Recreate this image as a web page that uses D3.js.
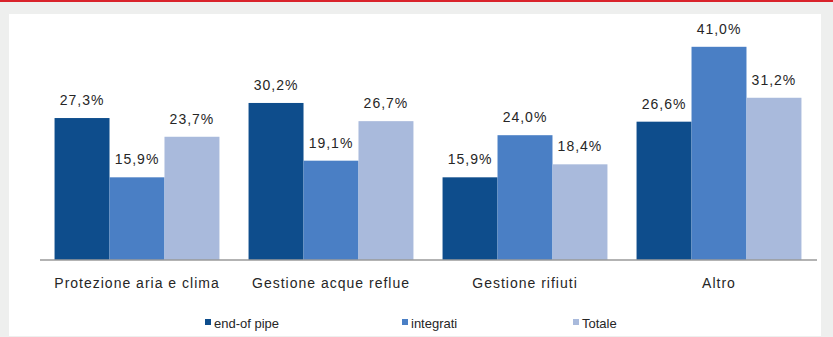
<!DOCTYPE html>
<html>
<head>
<meta charset="utf-8">
<script src="https://cdn.jsdelivr.net/npm/d3@7/dist/d3.min.js"></script>
<style>
  html, body { margin: 0; padding: 0; background: #eeefee; }
  svg { display: block; }
  text { font-family: "Liberation Sans", Arial, sans-serif; fill: #262626; }
</style>
</head>
<body>
<svg id="chart" width="833" height="337"></svg>
<script>
// Categories and series (percent values)
const categories = ["Protezione aria e clima", "Gestione acque reflue", "Gestione  rifiuti", "Altro"];
const seriesNames = ["end-of pipe", "integrati", "Totale"];
const endOfPipe = [27.3, 30.2, 15.9, 26.6];
const integrati = [15.9, 19.1, 24.0, 41.0];
const totale = [23.7, 26.7, 18.4, 31.2];
const seriesColors = ["#0e4d8c", "#4a7fc5", "#a9badc"];

const seriesValues = [endOfPipe, integrati, totale];
const rows = categories.map((c, i) => ({
  category: c,
  values: seriesNames.map((s, j) => ({ series: s, value: seriesValues[j][i], color: seriesColors[j] }))
}));

const svg = d3.select("#chart");
const W = 833, H = 337;

// Frame: red top rule and white panel
svg.append("rect").attr("x", 0).attr("y", 0).attr("width", W).attr("height", H).attr("fill", "#eeefee");
svg.append("rect").attr("x", 0).attr("y", 0).attr("width", W).attr("height", 2).attr("fill", "#d9232b");
svg.append("rect").attr("x", 9).attr("y", 14).attr("width", 812).attr("height", 322).attr("fill", "#ffffff");

const baseY = 260;
const x0 = d3.scaleBand().domain(categories).range([40, 816]).paddingInner(0.15).paddingOuter(0.075);
const x1 = d3.scaleBand().domain(seriesNames).range([0, x0.bandwidth()]).padding(0);
const y = d3.scaleLinear().domain([0, 45]).range([baseY, 26]);

const fmt = v => d3.format(".1f")(v).replace(".", ",") + "%";

const groups = svg.append("g").selectAll("g").data(rows).join("g")
  .attr("transform", d => `translate(${x0(d.category)},0)`);

groups.selectAll("rect").data(d => d.values).join("rect")
  .attr("x", d => x1(d.series))
  .attr("y", d => y(d.value))
  .attr("width", x1.bandwidth())
  .attr("height", d => baseY - y(d.value))
  .attr("fill", d => d.color);

groups.selectAll("text.val").data(d => d.values).join("text")
  .attr("class", "val")
  .attr("x", d => x1(d.series) + x1.bandwidth() / 2)
  .attr("y", d => y(d.value) - 13)
  .attr("text-anchor", "middle")
  .attr("font-size", 14)
  .attr("letter-spacing", "1")
  .text(d => fmt(d.value));

// Category axis
const axis = d3.axisBottom(x0).tickSize(0).tickPadding(0);
const ax = svg.append("g").attr("transform", `translate(0,${baseY})`).call(axis);
ax.select(".domain").attr("stroke", "#9a9a9a").attr("stroke-width", 1.5).attr("d", "M40,0H817");
ax.selectAll(".tick text")
  .attr("y", 28)
  .attr("font-size", 14)
  .attr("letter-spacing", "1")
  .attr("font-family", "Liberation Sans, Arial, sans-serif")
  .attr("fill", "#262626")
  .attr("dy", 0);

// Legend
const legendX = [205, 402, 573];
const legend = svg.append("g").selectAll("g").data(seriesNames).join("g")
  .attr("transform", (d, i) => `translate(${legendX[i]},323)`);
legend.append("rect").attr("x", 0).attr("y", -4).attr("width", 6).attr("height", 6)
  .attr("fill", (d, i) => seriesColors[i]);
legend.append("text").attr("x", 9).attr("y", 5).attr("font-size", 13).text(d => d);
</script>
</body>
</html>
